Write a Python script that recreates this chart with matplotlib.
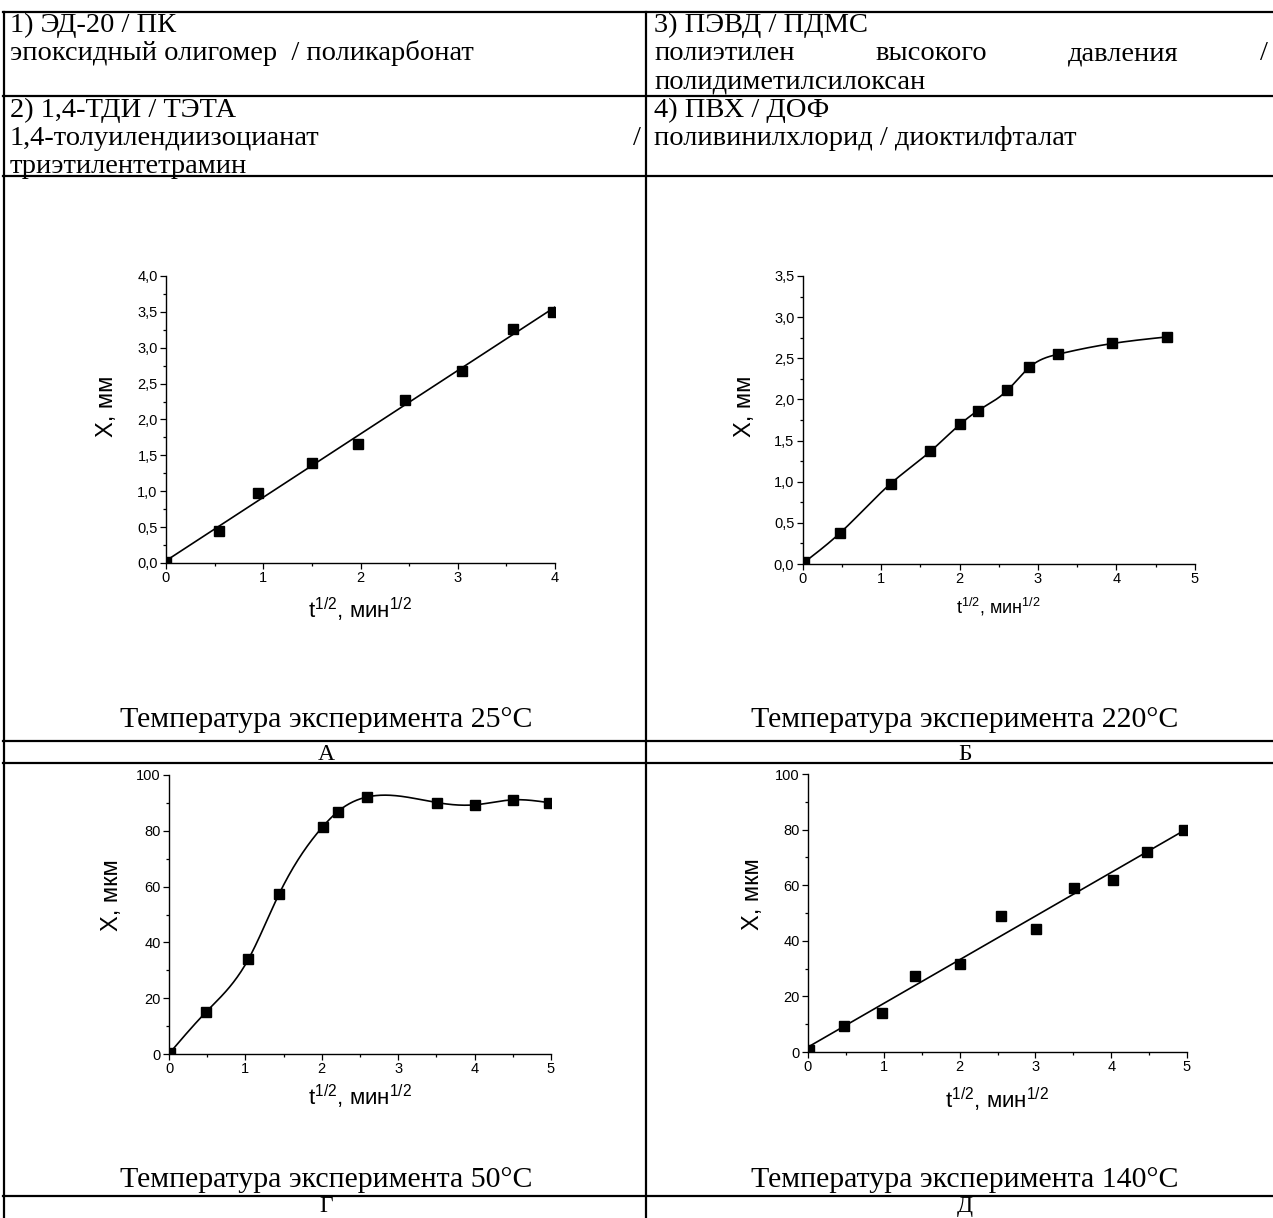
import numpy as np
import matplotlib
matplotlib.use('Agg')
import matplotlib.pyplot as plt
from matplotlib.lines import Line2D
from matplotlib.ticker import MultipleLocator, FuncFormatter

plt.rcParams['font.family'] = 'Liberation Sans'
plt.rcParams['mathtext.fontset'] = 'custom'
plt.rcParams['mathtext.rm'] = 'Liberation Sans'
plt.rcParams['mathtext.default'] = 'rm'

# --- data ---
a_x = [0.0, 0.54, 0.95, 1.50, 1.97, 2.46, 3.04, 3.57, 3.98]
a_y = [0.02, 0.45, 0.97, 1.39, 1.66, 2.27, 2.68, 3.26, 3.50]

b_x = [0.02, 0.48, 1.12, 1.63, 2.01, 2.23, 2.61, 2.89, 3.26, 3.95, 4.65]
b_y = [0.02, 0.38, 0.975, 1.37, 1.70, 1.86, 2.11, 2.39, 2.55, 2.68, 2.76]

g_x = [0.01, 0.48, 1.04, 1.44, 2.01, 2.21, 2.59, 3.51, 4.00, 4.50, 4.97]
g_y = [0.4, 14.9, 34.0, 57.3, 81.4, 86.9, 92.1, 90.1, 89.3, 91.1, 90.1]

d_x = [0.01, 0.48, 0.97, 1.41, 2.00, 2.55, 3.01, 3.51, 4.03, 4.47, 4.96]
d_y = [0.8, 9.5, 14.0, 27.5, 31.8, 48.9, 44.4, 59.0, 62.0, 71.9, 80.0]

row1_left = [["1) ЭД-20 / ПК"], ["эпоксидный олигомер  / поликарбонат"]]
row1_right = [["3) ПЭВД / ПДМС"], ["полиэтилен", "высокого", "давления", "/"],
              ["полидиметилсилоксан"]]
row2_left = [["2) 1,4-ТДИ / ТЭТА"], ["1,4-толуилендиизоцианат", "/"],
             ["триэтилентетрамин"]]
row2_right = [["4) ПВХ / ДОФ"], ["поливинилхлорид / диоктилфталат"]]

captions = ["Температура эксперимента 25°C", "Температура эксперимента 220°C",
            "Температура эксперимента 50°C", "Температура эксперимента 140°C"]
letters = ["А", "Б", "Г", "Д"]

W, H = 1273, 1218
fig = plt.figure(figsize=(W / 100, H / 100), dpi=100)
SERIF = 'Liberation Serif'
TS = 20.5


def hline(y, x0=3, x1=1273):
    fig.add_artist(Line2D([x0 / W, x1 / W], [1 - y / H, 1 - y / H],
                          transform=fig.transFigure, color='black', lw=1.6))


def vline(x, y0=12, y1=1218):
    fig.add_artist(Line2D([x / W, x / W], [1 - y0 / H, 1 - y1 / H],
                          transform=fig.transFigure, color='black', lw=1.6))


def put_line(words, x0, x1, yb):
    texts = [fig.text(0, 0, w, family=SERIF, fontsize=TS, va='baseline')
             for w in words]
    rend = fig.canvas.get_renderer()
    widths = [t.get_window_extent(rend).width for t in texts]
    gap = 0 if len(words) == 1 else (x1 - x0 - sum(widths)) / (len(words) - 1)
    x = x0
    for t, w in zip(texts, widths):
        t.set_position((x / W, 1 - yb / H))
        x += w + gap


# table grid
for y in [12, 96, 176, 741, 763, 1196]:
    hline(y)
vline(4)
vline(646)

LS = 28
for lines, x0, x1, yb in [(row1_left, 10, 641, 32), (row1_right, 654, 1268, 32),
                          (row2_left, 10, 641, 117), (row2_right, 654, 1268, 117)]:
    for i, words in enumerate(lines):
        put_line(words, x0, x1, yb + i * LS)

for cap, let, cx, yc, yl in [(captions[0], letters[0], 326, 727, 760),
                              (captions[1], letters[1], 965, 727, 760),
                              (captions[2], letters[2], 326, 1187, 1212),
                              (captions[3], letters[3], 965, 1187, 1212)]:
    fig.text(cx / W, 1 - yc / H, cap, family=SERIF, fontsize=21.5,
             ha='center', va='baseline')
    fig.text(cx / W, 1 - yl / H, let, family=SERIF, fontsize=17,
             ha='center', va='baseline')


def make_ax(l, r, t, b):
    return fig.add_axes([l / W, 1 - b / H, (r - l) / W, (b - t) / H])


def style(ax, xmax, ymax, ymaj, ymin, fmt, ylab, ylc, xlc, xls):
    ax.set_xlim(0, xmax)
    ax.set_ylim(0, ymax)
    for s in ['top', 'right']:
        ax.spines[s].set_visible(False)
    for s in ['left', 'bottom']:
        ax.spines[s].set_linewidth(1.0)
    ax.xaxis.set_major_locator(MultipleLocator(1))
    ax.xaxis.set_minor_locator(MultipleLocator(0.5))
    ax.yaxis.set_major_locator(MultipleLocator(ymaj))
    ax.yaxis.set_minor_locator(MultipleLocator(ymin))
    ax.yaxis.set_major_formatter(FuncFormatter(fmt))
    ax.tick_params(which='major', length=4, width=0.9, labelsize=10.5, pad=2)
    ax.tick_params(which='minor', length=2.5, width=0.9)
    ax.set_ylabel(ylab, fontsize=17, va='center')
    ax.yaxis.set_label_coords(*ylc)
    ax.set_xlabel("t$^{1/2}$, мин$^{1/2}$", fontsize=xls, va='center')
    ax.xaxis.set_label_coords(*xlc)


def spline(x, y, n=400):
    x = np.asarray(x, float)
    y = np.asarray(y, float)
    h = np.diff(x)
    m = len(x)
    A = np.zeros((m, m))
    r = np.zeros(m)
    A[0, 0] = A[-1, -1] = 1
    for i in range(1, m - 1):
        A[i, i - 1] = h[i - 1]
        A[i, i] = 2 * (h[i - 1] + h[i])
        A[i, i + 1] = h[i]
        r[i] = 3 * ((y[i + 1] - y[i]) / h[i] - (y[i] - y[i - 1]) / h[i - 1])
    c = np.linalg.solve(A, r)
    xs = np.linspace(x[0], x[-1], n)
    k = np.clip(np.searchsorted(x, xs) - 1, 0, m - 2)
    dx = xs - x[k]
    b = (y[k + 1] - y[k]) / h[k] - h[k] * (2 * c[k] + c[k + 1]) / 3
    d = (c[k + 1] - c[k]) / (3 * h[k])
    return xs, y[k] + b * dx + c[k] * dx ** 2 + d * dx ** 3


comma1 = lambda v, p: f"{v:.1f}".replace('.', ',')
plain = lambda v, p: f"{v:.0f}"
mk = dict(marker='s', ms=7, color='black', ls='none')

# A
ax = make_ax(166, 555, 276, 563)
k, c0 = np.polyfit(a_x, a_y, 1)
lx = np.array([0, 4])
ax.plot(lx, k * lx + c0, color='black', lw=1.2)
ax.plot(a_x, a_y, **mk)
style(ax, 4, 4, 0.5, 0.25, comma1, "X, мм", (-0.152, 0.547), (0.5, -0.164), 16)

# Б
ax = make_ax(802.7, 1194.7, 276, 564)
sx, sy = spline(b_x, b_y)
ax.plot(sx, sy, color='black', lw=1.2)
ax.plot(b_x, b_y, **mk)
style(ax, 5, 3.5, 0.5, 0.25, comma1, "X, мм", (-0.147, 0.549), (0.5, -0.149), 13)

# Г
ax = make_ax(169, 551, 775, 1054)
sx, sy = spline(g_x, g_y)
ax.plot(sx, sy, color='black', lw=1.2)
ax.plot(g_x, g_y, **mk)
style(ax, 5, 100, 20, 10, plain, "X, мкм", (-0.149, 0.57), (0.5, -0.154), 16)

# Д
ax = make_ax(808, 1187, 774, 1052)
k, c0 = np.polyfit(d_x, d_y, 1)
lx = np.array([0, 5])
ax.plot(lx, k * lx + c0, color='black', lw=1.2)
ax.plot(d_x, d_y, **mk)
style(ax, 5, 100, 20, 10, plain, "X, мкм", (-0.145, 0.568), (0.5, -0.173), 16)

fig.savefig('out.png', dpi=100)
